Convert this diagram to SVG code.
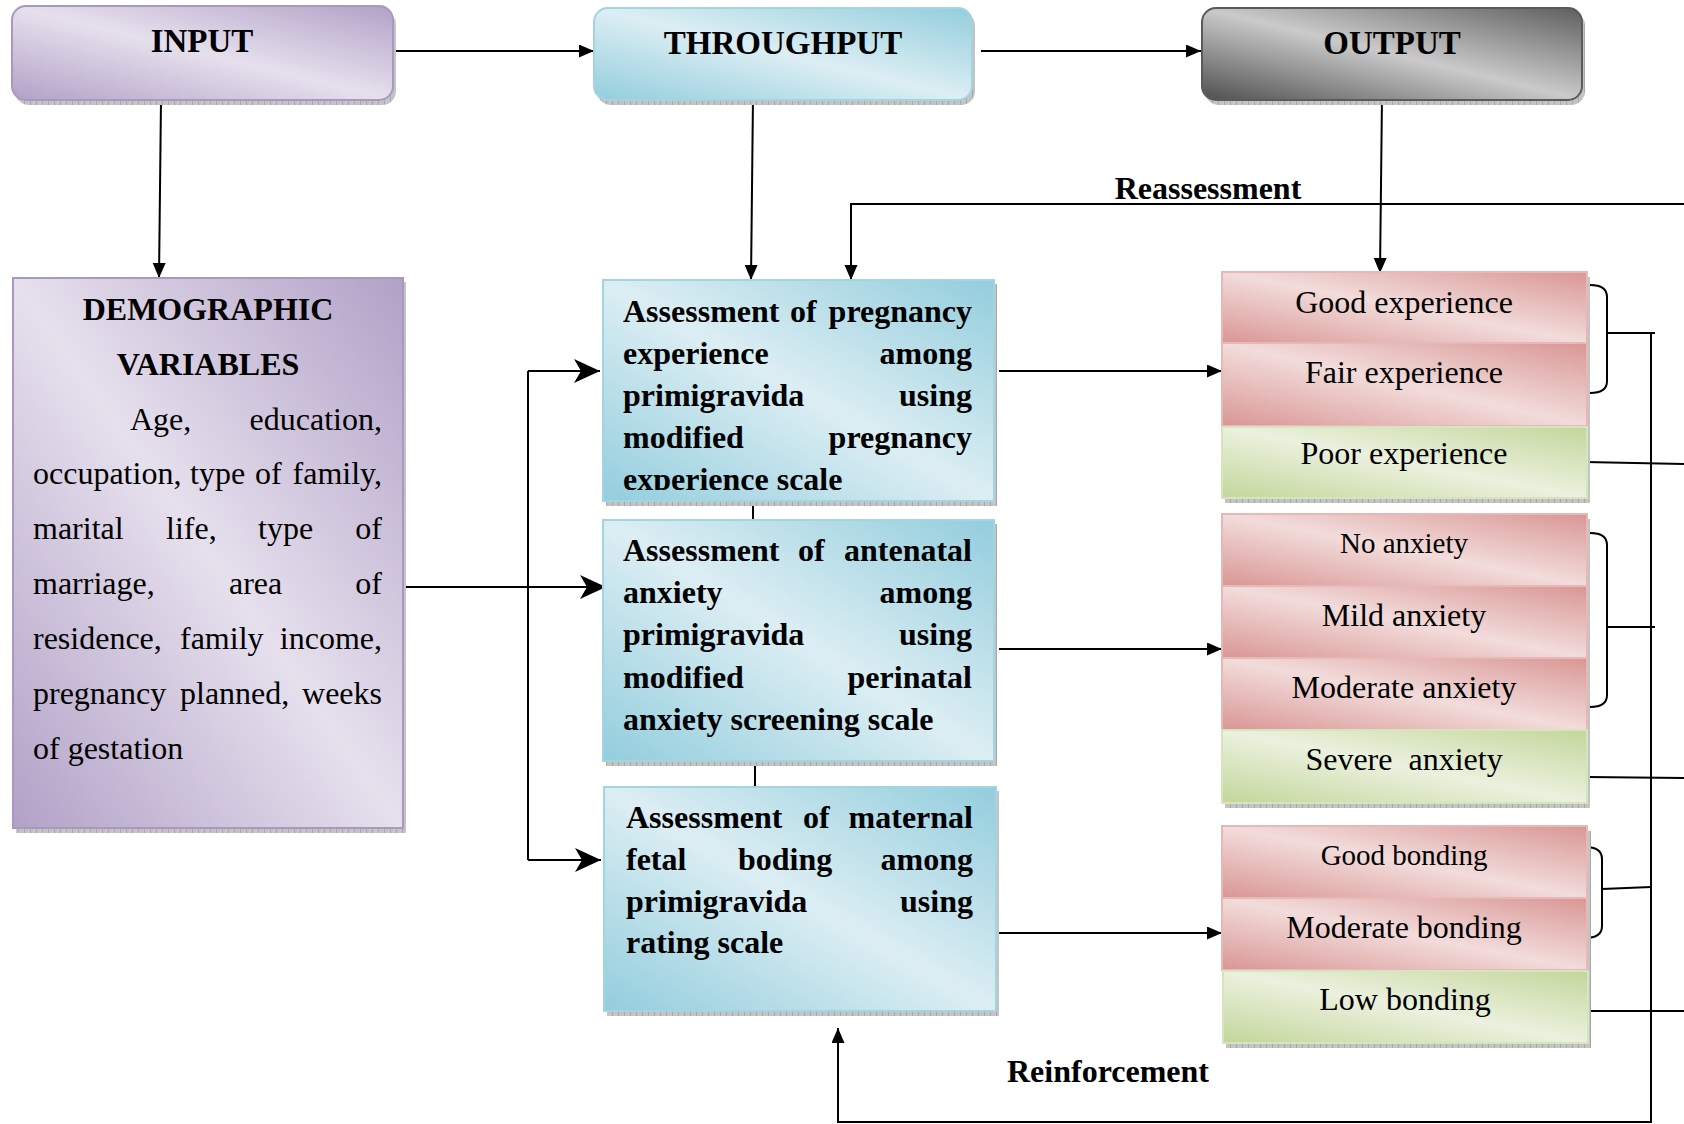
<svg xmlns="http://www.w3.org/2000/svg" width="1684" height="1124" viewBox="0 0 1684 1124">
<style>
.t{font-family:"Liberation Serif","Times New Roman",serif;fill:#000}
.b{font-weight:bold;font-size:32px}
.r{font-size:32px}
.ttl{font-weight:bold;font-size:33px;text-anchor:middle}
.c{text-anchor:middle}
.e{text-anchor:end}
.ln{stroke:#000;stroke-width:2;fill:none}
.sh{fill:url(#hatch)}
</style>
<defs>
<pattern id="hatch" width="6" height="6" patternUnits="userSpaceOnUse"><rect width="6" height="6" fill="#c4c4c4"/><path d="M0,0V6" stroke="#8c8c8c" stroke-width="1"/></pattern>
<linearGradient id="gPurple" x1="0" y1="1" x2="1" y2="0"><stop offset="0" stop-color="#b2a1c7"/><stop offset="0.5" stop-color="#e6e0ed"/><stop offset="1" stop-color="#b2a1c7"/></linearGradient>
<linearGradient id="gBlue" x1="0" y1="1" x2="1" y2="0"><stop offset="0" stop-color="#93cddd"/><stop offset="0.5" stop-color="#dceef3"/><stop offset="1" stop-color="#93cddd"/></linearGradient>
<linearGradient id="gGray" x1="0" y1="1" x2="1" y2="0"><stop offset="0" stop-color="#4f4f4f"/><stop offset="0.5" stop-color="#cacaca"/><stop offset="1" stop-color="#5e5e5e"/></linearGradient>
<linearGradient id="gPink" x1="0" y1="1" x2="1" y2="0"><stop offset="0" stop-color="#d99694"/><stop offset="0.5" stop-color="#f2dcdb"/><stop offset="1" stop-color="#d99694"/></linearGradient>
<linearGradient id="gGreen" x1="0" y1="1" x2="1" y2="0"><stop offset="0" stop-color="#c3d69b"/><stop offset="0.5" stop-color="#ebf1de"/><stop offset="1" stop-color="#c3d69b"/></linearGradient>
<marker id="tri" markerUnits="userSpaceOnUse" markerWidth="16" markerHeight="14" refX="15" refY="6.5" orient="auto"><path d="M0,0L15,6.5L0,13z" fill="#000"/></marker>
<marker id="stealth" markerUnits="userSpaceOnUse" markerWidth="27" markerHeight="25" refX="26" refY="12" orient="auto"><path d="M0,0L26,12L0,24L7,12z" fill="#000"/></marker>
<clipPath id="clip1"><rect x="603" y="280" width="391" height="210"/></clipPath>
</defs>

<g id="connectors">
<path class="ln" d="M393,51H594" marker-end="url(#tri)"/>
<path class="ln" d="M981,51H1201" marker-end="url(#tri)"/>
<path class="ln" d="M161,100L159,278" marker-end="url(#tri)"/>
<path class="ln" d="M753,97L751,280" marker-end="url(#tri)"/>
<path class="ln" d="M1382,97L1380,273" marker-end="url(#tri)"/>
<path class="ln" d="M1684,204H851V280" marker-end="url(#tri)"/>
<path class="ln" d="M753,501V521"/>
<path class="ln" d="M755,762V787"/>
<path class="ln" d="M403,587H606" marker-end="url(#stealth)"/>
<path class="ln" d="M528,371V860"/>
<path class="ln" d="M528,371H600" marker-end="url(#stealth)"/>
<path class="ln" d="M528,860H601" marker-end="url(#stealth)"/>
<path class="ln" d="M999,371H1222" marker-end="url(#tri)"/>
<path class="ln" d="M999,649H1222" marker-end="url(#tri)"/>
<path class="ln" d="M999,933H1222" marker-end="url(#tri)"/>
<path class="ln" d="M1590,285Q1607,285 1607,297V381Q1607,393 1590,393"/>
<path class="ln" d="M1607,333H1655"/>
<path class="ln" d="M1590,533Q1607,533 1607,545V695Q1607,707 1590,707"/>
<path class="ln" d="M1607,627H1655"/>
<path class="ln" d="M1585,847Q1602,847 1602,859V926Q1602,938 1585,938"/>
<path class="ln" d="M1602,889L1651,887"/>
<path class="ln" d="M1585,462L1684,464"/>
<path class="ln" d="M1587,777L1684,778"/>
<path class="ln" d="M1587,1011H1684"/>
<path class="ln" d="M1651,333V1122H838V1028" marker-end="url(#tri)"/>
<text class="t b c" x="1208" y="199">Reassessment</text>
<text class="t b c" x="1108" y="1082">Reinforcement</text>
</g>

<g id="input">
<rect class="sh" x="15" y="11" width="381" height="94" rx="14"/>
<rect x="12" y="6" width="381" height="94" rx="14" fill="url(#gPurple)" stroke="#a898c2" stroke-width="2"/>
<text class="t ttl" x="202" y="52">INPUT</text>
</g>

<g id="throughput">
<rect class="sh" x="597" y="12" width="378" height="93" rx="14"/>
<rect x="594" y="8" width="378" height="92" rx="14" fill="url(#gBlue)" stroke="#a3d4e1" stroke-width="2"/>
<text class="t ttl" x="783" y="54">THROUGHPUT</text>
</g>

<g id="output">
<rect class="sh" x="1205" y="12" width="380" height="93" rx="14"/>
<rect x="1202" y="8" width="380" height="92" rx="14" fill="url(#gGray)" stroke="#5a5a5a" stroke-width="2"/>
<text class="t ttl" x="1392" y="54">OUTPUT</text>
</g>

<g id="demographic">
<rect class="sh" x="16" y="282" width="390" height="551"/>
<rect x="13" y="278" width="390" height="550" fill="url(#gPurple)" stroke="#a898c2" stroke-width="2"/>
<text class="t b c" x="208" y="320">DEMOGRAPHIC</text>
<text class="t b c" x="208" y="375">VARIABLES</text>
<text class="t r" x="130" y="430">Age,</text>
<text class="t r e" x="382" y="430">education,</text>
<text class="t r" x="33" y="484">occupation,</text>
<text class="t r" x="190" y="484">type</text>
<text class="t r" x="255" y="484">of</text>
<text class="t r e" x="382" y="484">family,</text>
<text class="t r" x="33" y="539">marital</text>
<text class="t r" x="166" y="539">life,</text>
<text class="t r" x="258" y="539">type</text>
<text class="t r e" x="382" y="539">of</text>
<text class="t r" x="33" y="594">marriage,</text>
<text class="t r" x="229" y="594">area</text>
<text class="t r e" x="382" y="594">of</text>
<text class="t r" x="33" y="649">residence,</text>
<text class="t r" x="180" y="649">family</text>
<text class="t r e" x="382" y="649">income,</text>
<text class="t r" x="33" y="704">pregnancy</text>
<text class="t r" x="180" y="704">planned,</text>
<text class="t r e" x="382" y="704">weeks</text>
<text class="t r" x="33" y="759">of gestation</text>
</g>

<g id="assess-pregnancy">
<rect class="sh" x="606" y="284" width="391" height="222"/>
<rect x="603" y="280" width="391" height="221" fill="url(#gBlue)" stroke="#a3d4e1" stroke-width="2"/>
<g clip-path="url(#clip1)">
<text class="t b" x="623" y="322">Assessment</text>
<text class="t b" x="790" y="322">of</text>
<text class="t b e" x="972" y="322">pregnancy</text>
<text class="t b" x="623" y="364">experience</text>
<text class="t b e" x="972" y="364">among</text>
<text class="t b" x="623" y="406">primigravida</text>
<text class="t b e" x="972" y="406">using</text>
<text class="t b" x="623" y="448">modified</text>
<text class="t b e" x="972" y="448">pregnancy</text>
<text class="t b" x="623" y="490">experience scale</text>
</g>
</g>

<g id="assess-anxiety">
<rect class="sh" x="606" y="524" width="391" height="242"/>
<rect x="603" y="520" width="391" height="241" fill="url(#gBlue)" stroke="#a3d4e1" stroke-width="2"/>
<text class="t b" x="623" y="561">Assessment</text>
<text class="t b" x="798" y="561">of</text>
<text class="t b e" x="972" y="561">antenatal</text>
<text class="t b" x="623" y="603">anxiety</text>
<text class="t b e" x="972" y="603">among</text>
<text class="t b" x="623" y="645">primigravida</text>
<text class="t b e" x="972" y="645">using</text>
<text class="t b" x="623" y="688">modified</text>
<text class="t b e" x="972" y="688">perinatal</text>
<text class="t b" x="623" y="730">anxiety screening scale</text>
</g>

<g id="assess-bonding">
<rect class="sh" x="607" y="791" width="392" height="225"/>
<rect x="604" y="787" width="392" height="224" fill="url(#gBlue)" stroke="#a3d4e1" stroke-width="2"/>
<text class="t b" x="626" y="828">Assessment</text>
<text class="t b" x="803" y="828">of</text>
<text class="t b e" x="973" y="828">maternal</text>
<text class="t b" x="626" y="870">fetal</text>
<text class="t b" x="738" y="870">boding</text>
<text class="t b e" x="973" y="870">among</text>
<text class="t b" x="626" y="912">primigravida</text>
<text class="t b e" x="973" y="912">using</text>
<text class="t b" x="626" y="953">rating scale</text>
</g>

<g id="experience-outcomes">
<rect class="sh" x="1225" y="277" width="365" height="226"/>
<rect x="1222" y="272" width="365" height="71" fill="url(#gPink)" stroke="#e6b9b8" stroke-width="2"/>
<rect x="1222" y="343" width="365" height="83" fill="url(#gPink)" stroke="#e6b9b8" stroke-width="2"/>
<rect x="1222" y="427" width="365" height="71" fill="url(#gGreen)" stroke="#d7e4bd" stroke-width="2"/>
<text class="t r c" x="1404" y="313">Good experience</text>
<text class="t r c" x="1404" y="383">Fair experience</text>
<text class="t r c" x="1404" y="464">Poor experience</text>
</g>

<g id="anxiety-outcomes">
<rect class="sh" x="1225" y="519" width="365" height="289"/>
<rect x="1222" y="514" width="365" height="72" fill="url(#gPink)" stroke="#e6b9b8" stroke-width="2"/>
<rect x="1222" y="586" width="365" height="72" fill="url(#gPink)" stroke="#e6b9b8" stroke-width="2"/>
<rect x="1222" y="658" width="365" height="72" fill="url(#gPink)" stroke="#e6b9b8" stroke-width="2"/>
<rect x="1222" y="730" width="365" height="73" fill="url(#gGreen)" stroke="#d7e4bd" stroke-width="2"/>
<text class="t c" style="font-size:29px" x="1404" y="553">No anxiety</text>
<text class="t r c" x="1404" y="626">Mild anxiety</text>
<text class="t r c" x="1404" y="698">Moderate anxiety</text>
<text class="t r c" x="1404" y="770" xml:space="preserve">Severe  anxiety</text>
</g>

<g id="bonding-outcomes">
<rect class="sh" x="1226" y="831" width="365" height="217"/>
<rect x="1222" y="826" width="365" height="72" fill="url(#gPink)" stroke="#e6b9b8" stroke-width="2"/>
<rect x="1222" y="898" width="365" height="72" fill="url(#gPink)" stroke="#e6b9b8" stroke-width="2"/>
<rect x="1223" y="971" width="365" height="72" fill="url(#gGreen)" stroke="#d7e4bd" stroke-width="2"/>
<text class="t c" style="font-size:29px" x="1404" y="865">Good bonding</text>
<text class="t r c" x="1404" y="938">Moderate bonding</text>
<text class="t r c" x="1405" y="1010">Low bonding</text>
</g>
</svg>
